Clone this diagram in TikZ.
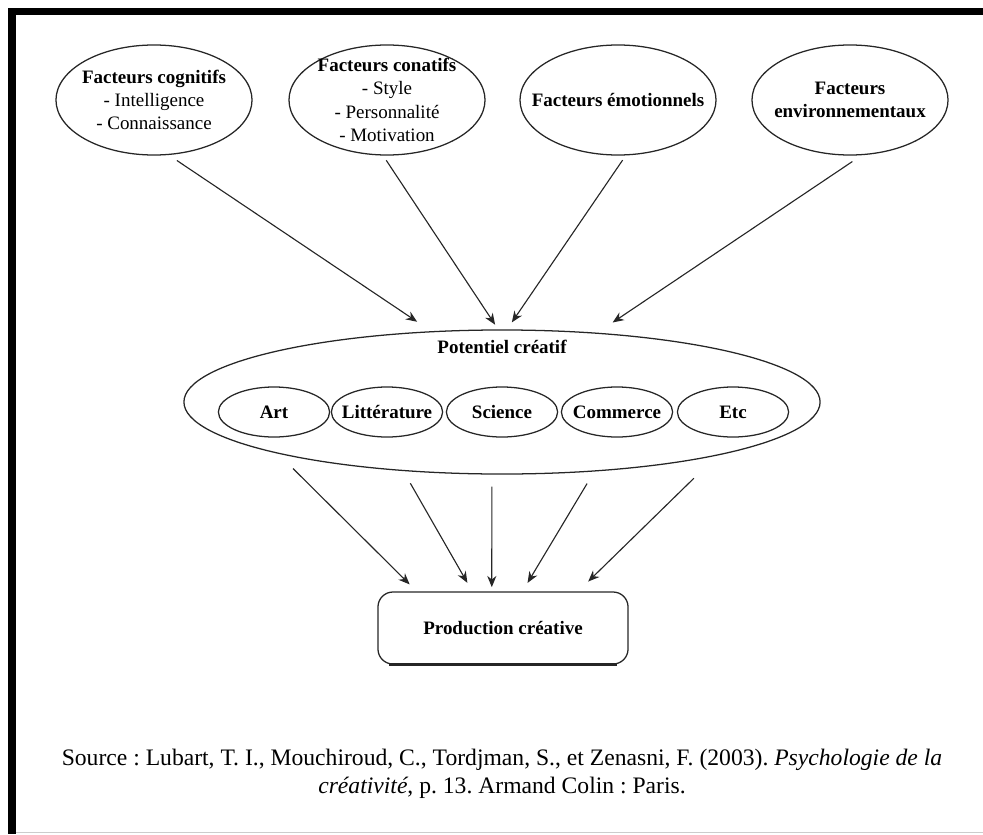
\documentclass[tikz,border=0pt]{standalone}
\usepackage{fontspec}
\setmainfont{Liberation Serif}
\usepackage{tikz}
\usetikzlibrary{shapes.geometric,arrows.meta,positioning}
\frenchspacing

\begin{document}
\begin{tikzpicture}[x=0.025cm, y=-0.025cm,
    facteur/.style={draw=black!85, line width=0.9pt, ellipse, inner xsep=-1cm, inner ysep=-1cm,
        minimum width=4.9cm, minimum height=2.75cm, align=center,
        font=\fontsize{13.5}{16.5}\selectfont},
    domaine/.style={draw=black!85, line width=0.9pt, ellipse, inner xsep=-1cm, inner ysep=-0.5cm,
        minimum width=2.78cm, minimum height=1.25cm,
        font=\fontsize{13.5}{16.5}\selectfont\bfseries},
    fleche/.style={-{Stealth[length=8pt,width=6.5pt]}, black!85, line width=0.8pt}]
    \useasboundingbox (0,0) rectangle (983,834);

    % cadre
    \fill (8,8) rectangle (983,15);
    \fill (8,8) rectangle (16,834);
    \draw[black!20] (16,832) -- (983,832);

    % Facteurs
    \node[facteur] (cog) at (154,100) {\textbf{Facteurs cognitifs}\\- Intelligence\\- Connaissance};
    \node[facteur] (con) at (387,100) {\textbf{Facteurs conatifs}\\- Style\\- Personnalité\\- Motivation};
    \node[facteur] (emo) at (618,100) {\textbf{Facteurs émotionnels}};
    \node[facteur] (env) at (850,100) {\textbf{Facteurs}\\\textbf{environnementaux}};

    % Potentiel creatif
    \node[draw=black!85, line width=0.9pt, ellipse, inner sep=0pt,
        minimum width=15.9cm, minimum height=3.6cm] (pot) at (502,402) {};
    \node[font=\fontsize{13.5}{16.5}\selectfont\bfseries] (potlbl) at (502,347) {Potentiel créatif};
    \node[domaine] (art) at (274,412) {Art};
    \node[domaine] (lit) at (387,412) {Littérature};
    \node[domaine] (sci) at (502,412) {Science};
    \node[domaine] (com) at (617,412) {Commerce};
    \node[domaine] (etc) at (733,412) {Etc};

    % Production
    \node[draw=black!85, line width=0.9pt, rounded corners=0.375cm, inner sep=0pt,
        minimum width=6.25cm, minimum height=1.8cm,
        font=\fontsize{13.5}{16.5}\selectfont\bfseries] (prod) at (503,628) {Production créative};
    \draw[black!85, line width=2pt] ([xshift=0.3cm]prod.south west) -- ([xshift=-0.3cm]prod.south east);

    % fleches
    \draw[fleche, shorten <=7pt, shorten >=12pt] (cog.-75) -- (pot.135);
    \draw[fleche, shorten <=4pt, shorten >=4pt] (con.-94) -- (pot.93);
    \draw[fleche, shorten <=4pt, shorten >=6pt] (emo.-82) -- (pot.86);
    \draw[fleche, shorten <=8pt, shorten >=13pt] (env.-78) -- (pot.36);

    \draw[fleche, shorten <=15pt, shorten >=7pt] (pot.-167) -- (prod.157);
    \draw[fleche, shorten <=10pt, shorten >=7pt] (pot.-145) -- (prod.130);
    \draw[fleche, shorten <=8.5pt, shorten >=3pt] (pot.-98) -- (prod.107);
    \draw[fleche, shorten <=10pt, shorten >=7pt] (pot.-37.5) -- (prod.62);
    \draw[fleche, shorten <=23pt, shorten >=10pt] (pot.-14) -- (prod.26);

    % source
    \node[font=\fontsize{16.8}{20}\selectfont, align=center] (src) at (502,774)
        {Source : Lubart, T. I., Mouchiroud, C., Tordjman, S., et Zenasni, F. (2003). \textit{Psychologie de la}\\
        \textit{créativité}, p. 13. Armand Colin : Paris.};
\end{tikzpicture}
\end{document}
